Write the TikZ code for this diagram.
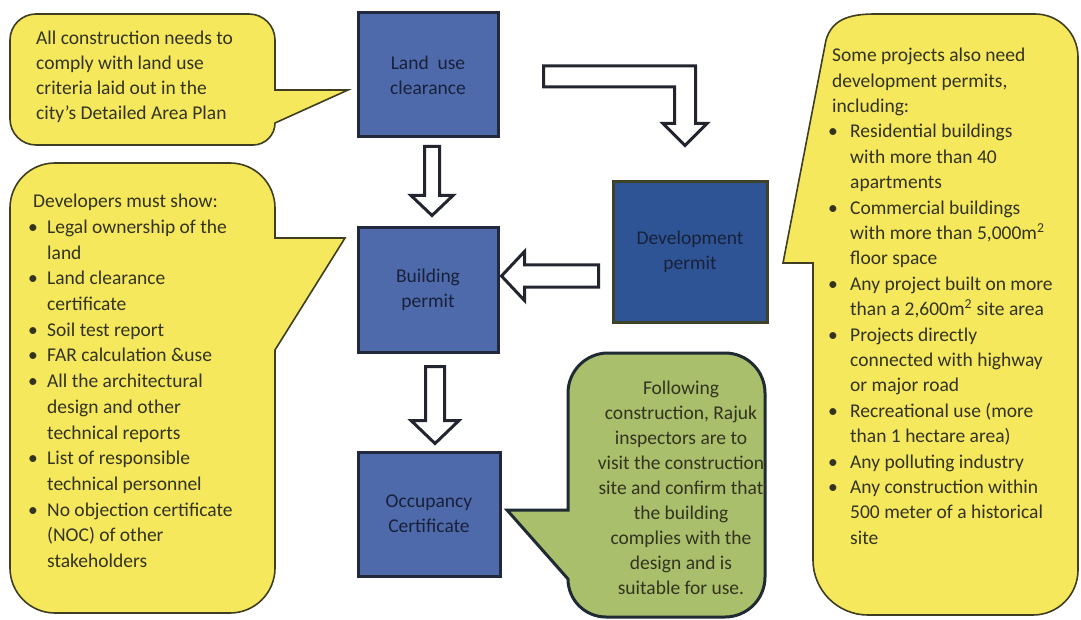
\documentclass[tikz,border=0pt]{standalone}
\usepackage{fontspec}
\setmainfont{Carlito}
\usetikzlibrary{calc}
\definecolor{cyel}{HTML}{F5E85C}
\definecolor{cyeld}{HTML}{3F3E22}
\definecolor{cgrn}{HTML}{A9BF6C}
\definecolor{cgrnd}{HTML}{1F2A33}
\definecolor{bblue}{HTML}{4F6AAB}
\definecolor{bblued}{HTML}{22293D}
\definecolor{dblue}{HTML}{2F5496}
\definecolor{dbluer}{HTML}{3D4329}
\definecolor{arrd}{HTML}{22252E}
\definecolor{txt}{HTML}{33331F}
\definecolor{btxt}{HTML}{18213A}
\tikzset{
 stepbox/.style={draw=bblued, line width=3pt, fill=bblue, minimum width=140pt, minimum height=124pt, align=center, text=btxt, font=\fontsize{19.5}{25}\selectfont, inner sep=0pt},
 devbox/.style={stepbox, fill=dblue, draw=dbluer, minimum width=154pt, minimum height=140pt},
 callout/.style={draw=cyeld, line width=1.6pt, fill=cyel},
 gcallout/.style={draw=cgrnd, line width=3pt, fill=cgrn},
 blockarr/.style={draw=arrd, line width=3pt, fill=white, line join=miter},
 ctext/.style={anchor=north west, align=left, inner sep=0pt, text=txt, font=\fontsize{19.5}{25.5}\selectfont},
 gtext/.style={anchor=north, align=center, inner sep=0pt, text=txt, font=\fontsize{19.5}{25}\selectfont},
}
\newcommand{\bL}{\makebox[19pt][l]{\textbullet}}
\newcommand{\bR}{\makebox[22pt][l]{\textbullet}}
% vertical block arrow: #1 start, #2 tip, #3 shaft half, #4 head half, #5 head length
\newcommand{\vblock}[5]{%
 \draw[blockarr] let \p1=#1, \p2=#2 in
   (\x1-#3pt,\y1) -- (\x1+#3pt,\y1) -- (\x1+#3pt,\y2+#5pt) -- (\x1+#4pt,\y2+#5pt)
   -- (\x1,\y2) -- (\x1-#4pt,\y2+#5pt) -- (\x1-#3pt,\y2+#5pt) -- cycle;}
\begin{document}
\begin{tikzpicture}[x=1pt,y=-1pt]
\useasboundingbox (0,0) rectangle (1081,620);
\fill[white] (0,0) rectangle (1081,620);

% step boxes
\node[stepbox] (land) at (428,75) {Land\ \ use\\clearance};
\node[stepbox] (build) at (428,290) {Building\\permit};
\node[stepbox, minimum width=142pt] (occ) at (429,514) {Occupancy\\Certificate};
\node[devbox] (dev) at (690,252) {Development\\permit};

% block arrows
\vblock{($(land.south)+(4,8)$)}{($(build.north)+(4,-11)$)}{7.5}{21}{20}
\vblock{($(build.south)+(7,13)$)}{($(occ.north)+(6,-7)$)}{9.5}{24}{23}
\draw[blockarr] let \p1=($(dev.west)+(-13,24)$), \p2=($(build.east)+(2,-14)$) in
  (\x1,\y1+11pt) -- (\x2+23pt,\y1+11pt) -- (\x2+23pt,\y1+24.5pt) -- (\x2,\y1)
  -- (\x2+23pt,\y1-24.5pt) -- (\x2+23pt,\y1-11pt) -- (\x1,\y1-11pt) -- cycle;
\draw[blockarr] let \p1=($(land.east)+(44,1.5)$), \p2=($(dev.north)+(-5,-35)$) in
  (\x1,\y1+10.5pt) -- (\x2+10.5pt,\y1+10.5pt) -- (\x2+10.5pt,\y2+22pt) -- (\x2+22pt,\y2+22pt)
  -- (\x2,\y2) -- (\x2-22pt,\y2+22pt) -- (\x2-10.5pt,\y2+22pt) -- (\x2-10.5pt,\y1-10.5pt)
  -- (\x1,\y1-10.5pt) -- cycle;

% callout 1
\draw[callout] (36,14) -- (249,14) arc[start angle=270,end angle=360,radius=26]
  -- (275,90) -- (348,90) -- (275,123) arc[start angle=0,end angle=90,radius=22]
  -- (36,145) arc[start angle=90,end angle=180,radius=26]
  -- (10,40) arc[start angle=180,end angle=270,radius=26] -- cycle;
\node[ctext, font=\fontsize{19.5}{25}\selectfont] (t1) at (36,31) {All construction needs to\\comply with land use\\criteria laid out in the\\city’s Detailed Area Plan};

% left big callout
\draw[callout] (55,163) -- (230,163) arc[start angle=270,end angle=360,radius=45]
  -- (275,238) -- (345,238) -- (275,350) -- (275,568) arc[start angle=0,end angle=90,radius=45]
  -- (55,613) arc[start angle=90,end angle=180,radius=45]
  -- (10,208) arc[start angle=180,end angle=270,radius=45] -- cycle;
\node[ctext, font=\fontsize{19.5}{25.7}\selectfont] (t2) at (28,194) {\hspace*{5pt}Developers must show:\\
\bL Legal ownership of the\\\hspace*{19pt}land\\
\bL Land clearance\\\hspace*{19pt}certificate\\
\bL Soil test report\\
\bL FAR calculation \&use\\
\bL All the architectural\\\hspace*{19pt}design and other\\\hspace*{19pt}technical reports\\
\bL List of responsible\\\hspace*{19pt}technical personnel\\
\bL No objection certificate\\\hspace*{19pt}(NOC) of other\\\hspace*{19pt}stakeholders};

% green callout
\draw[gcallout] (608,353) -- (725,353) arc[start angle=270,end angle=360,radius=40]
  -- (765,577) arc[start angle=0,end angle=90,radius=40]
  -- (606,617) arc[start angle=90,end angle=180,radius=38]
  -- (507,510) -- (568,510) -- (568,393) arc[start angle=180,end angle=270,radius=40] -- cycle;
\node[gtext] (t3) at (681,381) {Following\\construction, Rajuk\\inspectors are to\\visit the construction\\site and confirm that\\the building\\complies with the\\design and is\\suitable for use.};

% right callout
\draw[callout] (875,14) -- (1035,14) arc[start angle=270,end angle=360,radius=43]
  -- (1078,570) arc[start angle=0,end angle=90,radius=45]
  -- (868,615) arc[start angle=90,end angle=180,radius=55]
  -- (813,263) -- (783,263) -- (826,40) .. controls (832,20) and (848,14) .. (875,14) -- cycle;
\node[ctext, font=\fontsize{19.5}{25.4}\selectfont] (t4) at (828,48) {\hspace*{4pt}Some projects also need\\\hspace*{4pt}development permits,\\\hspace*{4pt}including:\\
\bR Residential buildings\\\hspace*{22pt}with more than 40\\\hspace*{22pt}apartments\\
\bR Commercial buildings\\\hspace*{22pt}with more than 5,000m\textsuperscript{2}\\\hspace*{22pt}floor space\\
\bR Any project built on more\\\hspace*{22pt}than a 2,600m\textsuperscript{2} site area\\
\bR Projects directly\\\hspace*{22pt}connected with highway\\\hspace*{22pt}or major road\\
\bR Recreational use (more\\\hspace*{22pt}than 1 hectare area)\\
\bR Any polluting industry\\
\bR Any construction within\\\hspace*{22pt}500 meter of a historical\\\hspace*{22pt}site};
\end{tikzpicture}
\end{document}
